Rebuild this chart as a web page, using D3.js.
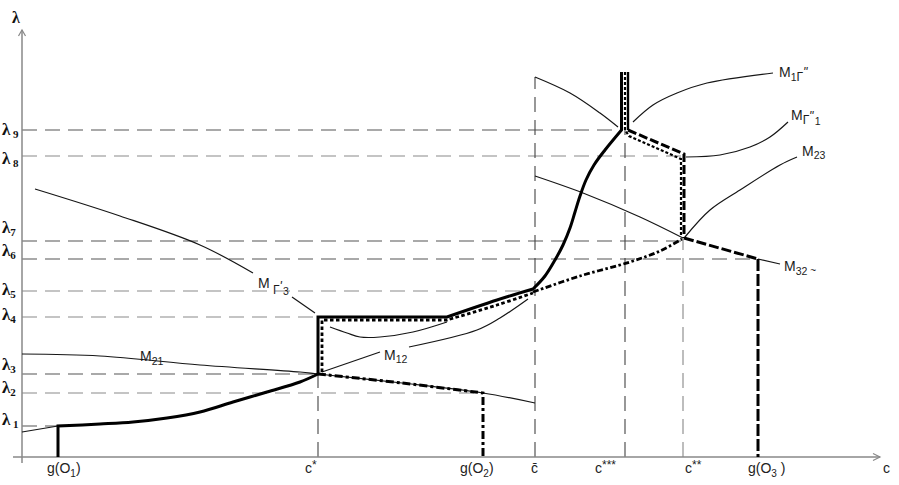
<!DOCTYPE html>
<html><head><meta charset="utf-8">
<script src="https://cdn.jsdelivr.net/npm/d3@7"></script>
<style>body{margin:0;background:#fff}svg{display:block}</style>
</head><body><svg id="c" width="899" height="485"></svg>
<script>
// ---------------- DATA (abstract units: c along x, λ along y) ----------------
const lambdaNames  = ["1","2","3","4","5","6","7","8","9"];
const lambdaValues = [31, 64, 83, 140, 166, 198, 216, 301, 327];
const lambdaReach  = [36, 461, 296, 296, 513, 736, 661, 662, 600]; // c where each λ guide ends
const lambdaLabelNudge = [-4, -3, -7, 0, 1, -6, -11, 5, 2];           // label baseline nudge (px)

const cTickNames  = ["g(O1)", "c*", "g(O2)", "c̄", "c***", "c**", "g(O3)"];
const cTickValues = [36, 296, 461, 513, 603, 661, 736];
const cGuideTop   = [null, 83, null, 380, 327, 219, null];              // thin dashed verticals

// thin curves
const m21Curve   = [[0,103],[78,101],[178,92],[278,85],[296,83],[380,74],[461,64],[513,54]];
const m1Left     = [[0,25],[36,31]];
const mG3Upper   = [[13,268],[98,241],[178,212],[231,184]];
const mG3Leader  = [[270,160],[293,144]];
const mG3Inner   = [[308,130],[325,124],[338,120],[358,120],[391,125],[425,135]];
const m12Leader  = [[300,85],[358,105]];
const m12Curve   = [[387,110],[455,127],[478,139],[506,158]];
const topLeft    = [[513,380],[548,364],[578,344],[596,330]];
const m1GCurve   = [[611,335],[631,352],[655,364],[685,374],[751,384]];
const mG1Curve   = [[664,300],[698,302],[728,310],[748,320],[766,335]];
const m23Curve   = [[663,220],[688,247],[718,267],[758,292],[775,300]];
const descCurve  = [[513,281],[561,264],[618,240],[661,219]];
const m32Tail    = [[736,198],[758,193]];

// thick trajectories
const solidLow   = [[36,31],[78,33],[111,35],[145,39],[178,45],[211,55],[245,65],[278,75],[296,83]];
const solidStep  = [[296,83],[296,140],[425,140]];
const solidRise1 = [[425,140],[475,157],[511,168]];
const solidRise2 = [[511,168],[523,181],[533,197],[541,212],[548,229],[553,245],[558,261],[564,277],[572,292],[583,307],[599.5,327]];
const solidTop   = [[599.5,327],[599.5,385]];
const tripleRight= [[606,327],[606,385]];
const dottedStep = [[300,85],[300,137],[425,137]];
const dottedRise = [[425,137],[475,152],[511,164]];
const dottedTop  = [[603,385],[603,327],[607,321],[659,298],[659,221]];
const dashDotMid = [[511,165],[558,181],[608,195],[638,206],[660,218]];
const dashedHigh = [[606,327],[662,303],[662,219]];
const dashedLow  = [[662,219],[736,198]];
const gO3Drop    = [[736,198],[736,0]];
const gO2Branch  = [[296,83],[380,74],[461,64]];
const gO2Drop    = [[461,64],[461,0]];
const gO1Drop    = [[36,0],[36,31]];

// curve labels: parts [text, baselineOffset, fontSize, family?]
const DJ = "'DejaVu Sans', sans-serif";
const curveLabels = [
  {at:[118,96],  parts:[["M",0,14],["21",4,10.5]]},
  {at:[362,97],  parts:[["M",0,14],["12",3,10.5]]},
  {at:[236,169], parts:[["M",0,14],[" Γ",6,12],["ʹ",3,12,DJ],["3",7,10.5]]},
  {at:[757,380], parts:[["M",0,14],["1",4,10.5],["Γ",4,12],["ʺ",0,12,DJ]]},
  {at:[769,337], parts:[["M",0,14],["Γ",4,12],["ʺ",1,12,DJ],["1",5,10.5]]},
  {at:[780,301], parts:[["M",0,14],["23",3,10.5]]},
  {at:[762,186], parts:[["M",0,14],["32",4,10.5],[" ~",3,10]]}
];

// ---------------- DRAWING ----------------
const svg = d3.select("#c");
const x = d3.scaleLinear().domain([0,860]).range([22,882]);
const y = d3.scaleLinear().domain([0,427]).range([457,30]);

function pathOf(segs){
  return segs.map((s,i)=>{
    const g = d3.line().x(d=>x(d[0])).y(d=>y(d[1]))
      .curve(s.smooth ? d3.curveCatmullRom.alpha(0.5) : d3.curveLinear);
    let str = g(s.pts);
    if(i>0) str = str.replace(/^M/,"L");
    return str;
  }).join("");
}
function draw(segs, stroke, width, dash){
  svg.append("path").attr("d", pathOf(segs)).attr("fill","none")
    .attr("stroke",stroke).attr("stroke-width",width)
    .attr("stroke-dasharray",dash||null).attr("stroke-linejoin","miter");
}
const thin = (pts,smooth=true)=>draw([{pts,smooth}], "#161616", 1.2);

// guides: horizontal λ lines
lambdaValues.forEach((v,i)=>{
  svg.append("line").attr("x1",x(0)).attr("x2",x(lambdaReach[i]))
    .attr("y1",y(v)).attr("y2",y(v))
    .attr("stroke", [1,3,4,7].includes(i)?"#8a8a8a":"#555").attr("stroke-width",1.1)
    .attr("stroke-dasharray","15,8");
});
// vertical guides
cTickValues.forEach((v,i)=>{
  if(cGuideTop[i]==null) return;
  svg.append("line").attr("x1",x(v)).attr("x2",x(v))
    .attr("y1",y(0)).attr("y2",y(cGuideTop[i]))
    .attr("stroke", i===5?"#888":"#444").attr("stroke-width",1.1)
    .attr("stroke-dasharray","15,8");
});

// axes
const ax = svg.append("g").attr("stroke","#888").attr("stroke-width",1.5).attr("fill","none");
ax.append("line").attr("x1",x(0)).attr("x2",x(0)).attr("y1",y(0)+6).attr("y2",y(427));
ax.append("path").attr("d",`M${x(0)-3.5},${y(427)+6}L${x(0)},${y(427)}L${x(0)+3.5},${y(427)+6}`).attr("stroke-width",1.2);
ax.append("line").attr("x1",x(0)-9).attr("x2",x(858)).attr("y1",y(0)).attr("y2",y(0));
ax.append("path").attr("d",`M${x(858)-7},${y(0)-3.5}L${x(858)},${y(0)}L${x(858)-7},${y(0)+3.5}`).attr("stroke-width",1.2);

// thin curves
thin(m21Curve); thin(m1Left,false); thin(mG3Upper); thin(mG3Leader,false); thin(mG3Inner);
thin(m12Leader,false); thin(m12Curve); thin(topLeft); thin(m1GCurve); thin(mG1Curve);
thin(m23Curve); thin(descCurve); thin(m32Tail,false);

// thick trajectories
draw([{pts:gO2Branch,smooth:true},{pts:gO2Drop,smooth:false}], "#000", 3, "8,3,3,3");
draw([{pts:dottedStep,smooth:false},{pts:dottedRise,smooth:true}], "#000", 2.8, "3.5,2.5");
draw([{pts:dashDotMid,smooth:true}], "#000", 2.8, "6,2.5,2.5,2.5");
draw([{pts:dottedTop,smooth:false}], "#000", 2.2, "3,2");
draw([{pts:dashedHigh,smooth:false}], "#000", 3, "9,3");
draw([{pts:dashedLow,smooth:false}], "#000", 3, "10,3");
draw([{pts:gO3Drop,smooth:false}], "#000", 3, "12,3");
draw([{pts:tripleRight,smooth:false}], "#000", 2.4);
draw([{pts:gO1Drop,smooth:false},{pts:solidLow,smooth:true}], "#000", 3);
draw([{pts:solidStep,smooth:false},{pts:solidRise1,smooth:true},{pts:solidRise2,smooth:true},{pts:solidTop,smooth:false}], "#000", 3);

// rich text helper
function rich(px, py, parts, family, weight, fill, anchor){
  const t = svg.append("text").attr("x",px).attr("y",py)
    .attr("font-family",family).attr("font-weight",weight||"normal")
    .attr("fill",fill||"#1c1c1c").attr("text-anchor",anchor||"start");
  let prev = 0;
  parts.forEach(p=>{
    const s = t.append("tspan").attr("dy", p[1]-prev).attr("font-size", p[2]).text(p[0]);
    if(p[3]) s.attr("font-family", p[3]);
    prev = p[1];
  });
  return t;
}

// curve labels
curveLabels.forEach(l=> rich(x(l.at[0]), y(l.at[1]), l.parts, "'Liberation Sans', Arial, sans-serif"));

// λ labels
lambdaValues.forEach((v,i)=>{
  rich(2, y(v)+lambdaLabelNudge[i]+3,
    [["λ",0,17],[(i>=7||i===0)?" "+lambdaNames[i]:lambdaNames[i],3,11]],
    "'Liberation Serif', 'DejaVu Serif', serif","bold","#111");
});
rich(12, 23, [["λ",0,16]], "'Liberation Serif', serif","bold","#111");

// c tick labels
const tickParts = {
  "g(O1)":[["g(O",0,14],["1",4,10],[")",0,14]],
  "g(O2)":[["g(O",0,14],["2",4,10],[")",0,14]],
  "g(O3)":[["g(O",0,14],["3",4,10],[" )",0,14]],
  "c*":[["c",0,14],["*",-4,12]],
  "c***":[["c",0,14],["***",-4,12]],
  "c**":[["c",0,14],["**",-4,12]],
  "c̄":[["c̄",0,14]]
};
const tickDx = [-11,-13,-23,-4,-30,2,-10];
cTickNames.forEach((n,i)=>{
  rich(x(cTickValues[i])+tickDx[i], 473, tickParts[n], "'Liberation Sans', Arial, sans-serif","normal","#222");
});
rich(883, 473, [["c",0,14]], "'Liberation Sans', Arial, sans-serif","normal","#222");
</script></body></html>
